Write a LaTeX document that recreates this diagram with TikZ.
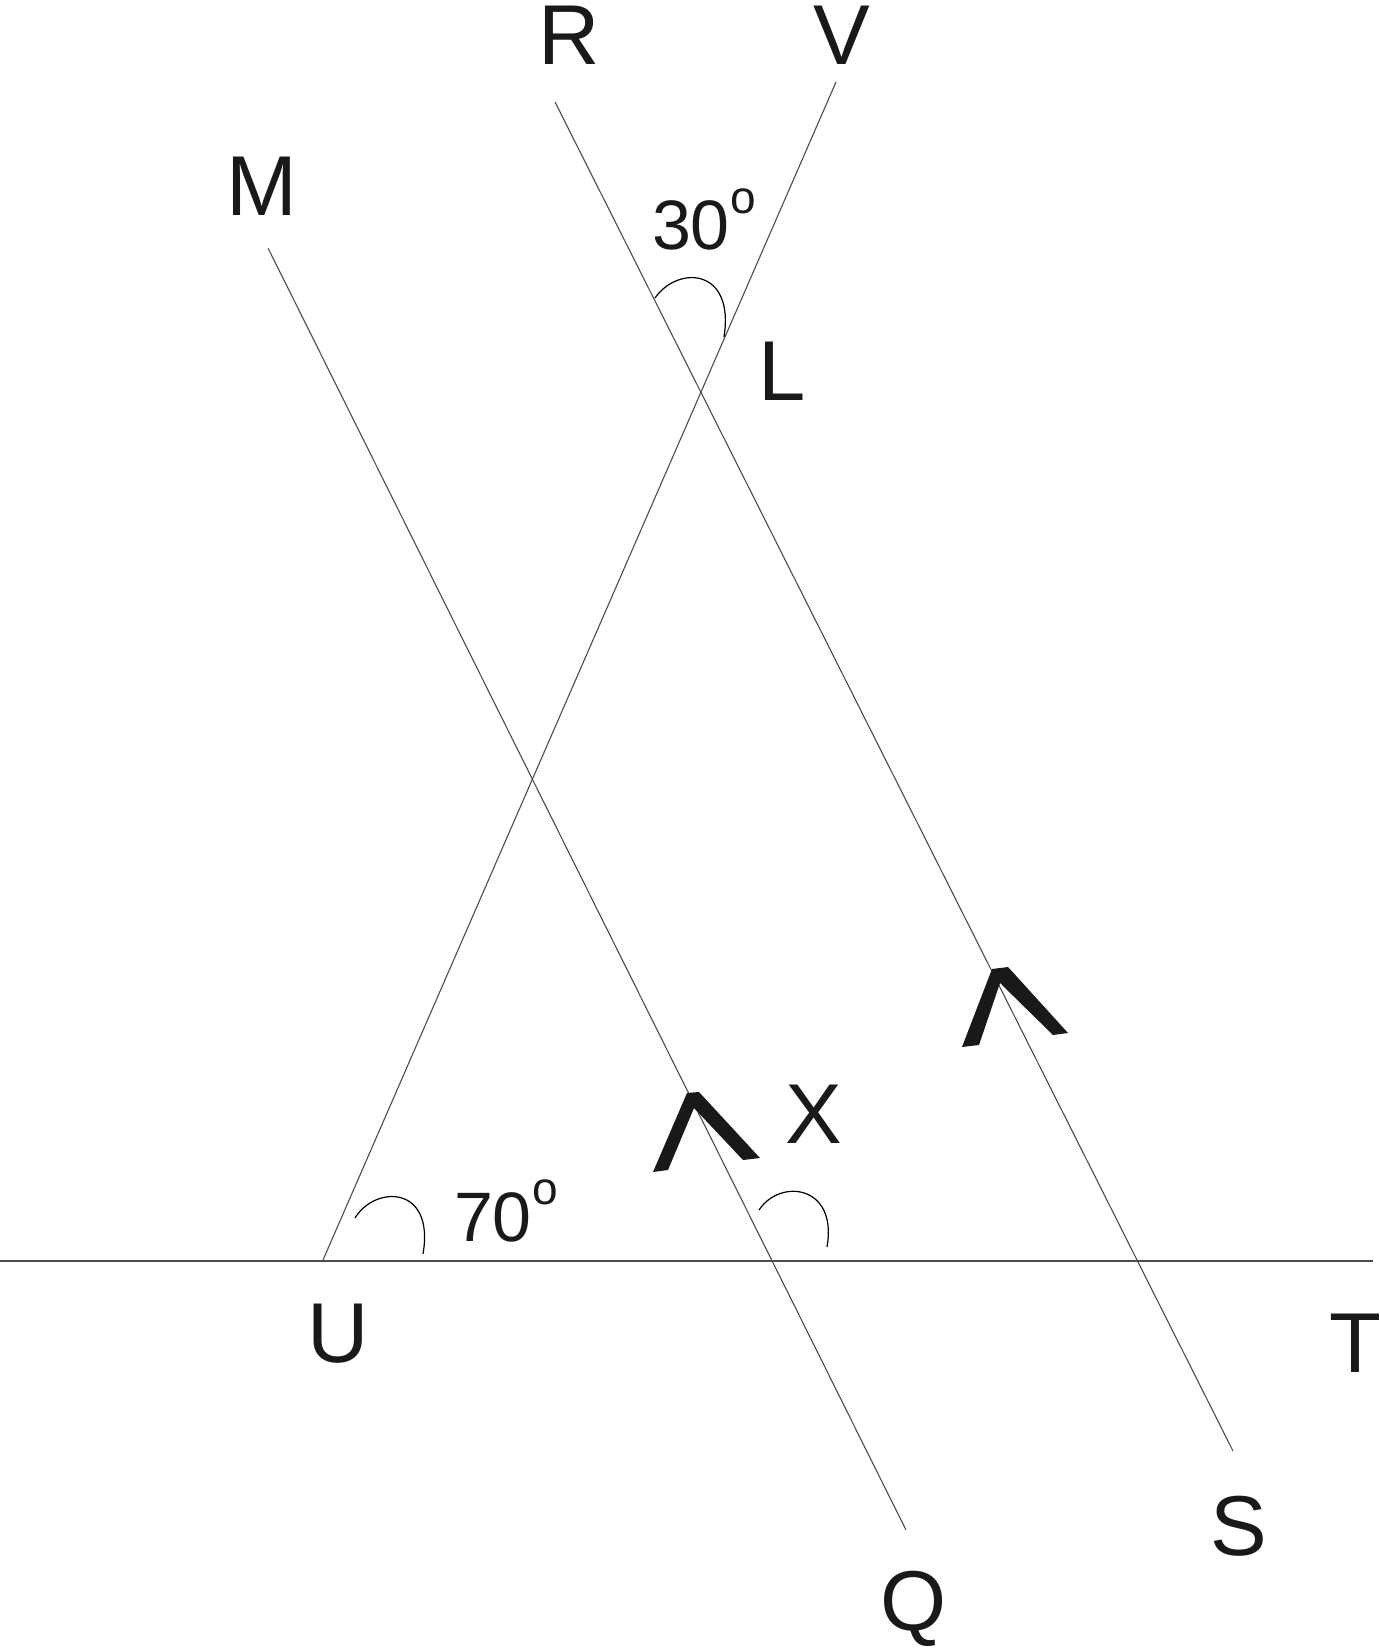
\documentclass[tikz,border=0pt]{standalone}
\usepackage{fontspec}
\setmainfont{Liberation Sans}
\begin{document}
\begin{tikzpicture}[x=1pt,y=-1pt,
  line/.style={line width=1.1pt, draw=black!70},
  arcmark/.style={line width=1.2pt, draw=black},
  lbl/.style={inner sep=0pt, anchor=base, text=black!90, font=\fontsize{85}{90}\selectfont},
  num/.style={inner sep=0pt, anchor=base, text=black!90, font=\fontsize{70}{75}\selectfont},
  deg/.style={inner sep=0pt, anchor=base, text=black!90, font=\fontsize{46}{50}\selectfont},
  chevron/.style={fill=black!90, draw=none}]
\useasboundingbox (0,0) rectangle (1380,1648);

% line end points
\coordinate (M1) at (268,248);
\coordinate (Q1) at (906,1530);
\coordinate (R1) at (555,102);
\coordinate (S1) at (1233,1451);
\coordinate (V1) at (836,82);
\coordinate (U1) at (323,1260);
\coordinate (H0) at (0,1261);
\coordinate (H1) at (1373,1261);

% lines
\draw[line] (M1) -- (Q1);
\draw[line] (R1) -- (S1);
\draw[line] (U1) -- (V1);
\draw[line] (H0) -- (H1);

% angle arcs
\draw[arcmark] (655,298) .. controls (678,265) and (735,268) .. (724,337);
\draw[arcmark] (355,1218) .. controls (375,1185) and (435,1185) .. (423,1254);
\draw[arcmark] (759,1210) .. controls (780,1178) and (838,1185) .. (827,1247);

% parallel marks
\fill[chevron] (653,1172) -- (687,1093) -- (699,1092) -- (760,1158) -- (743,1160) -- (694,1108) -- (668,1170) -- cycle;
\fill[chevron] (962,1047) -- (992,969) -- (1008,967) -- (1068,1033) -- (1053,1035) -- (1000,983) -- (979,1045) -- cycle;

% labels
\node[lbl] (R) at (569,65) {R};
\node[lbl] (V) at (842,65) {V};
\node[lbl] (M) at (262,215) {M};
\node[lbl] (L) at (782,400) {L};
\node[lbl] (X) at (814,1143) {X};
\node[lbl] (U) at (338,1362) {U};
\node[lbl] (T) at (1355,1372) {T};
\node[lbl] (S) at (1239,1555) {S};
\node[lbl] (Q) at (914,1630) {Q};

\node[num] (a30) at (691,249) {30};
\node[deg] (d30) at (743,214) {o};
\node[num] (a70) at (493,1241) {70};
\node[deg] (d70) at (545,1204) {o};
\end{tikzpicture}
\end{document}
